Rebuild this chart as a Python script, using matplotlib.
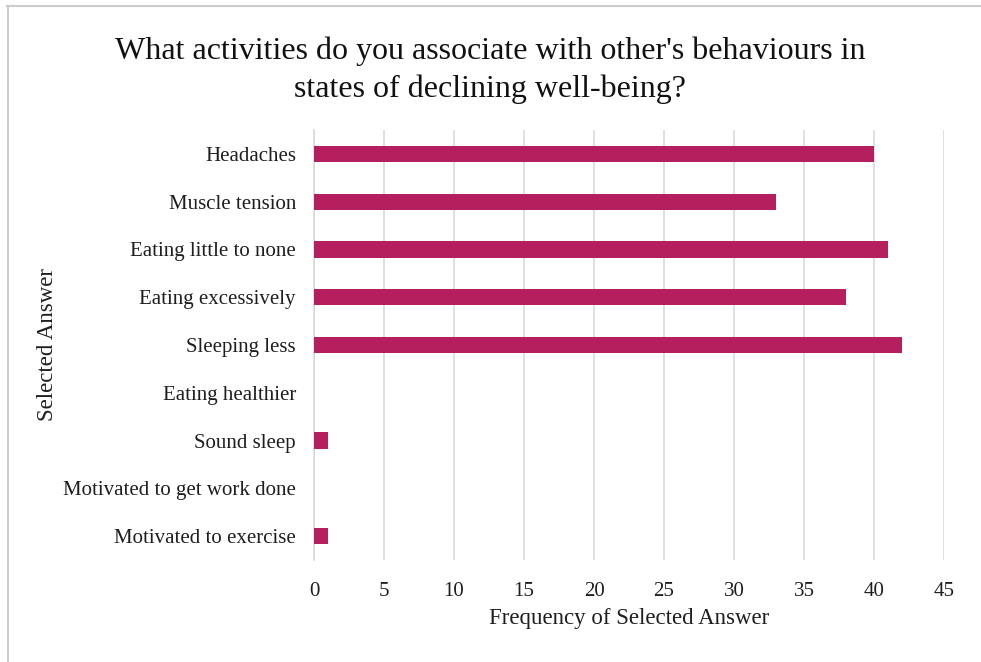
import matplotlib

matplotlib.use("Agg")
import matplotlib.pyplot as plt
from matplotlib.lines import Line2D

# Survey responses, top to bottom as they appear on the chart
answers = [
    "Headaches",
    "Muscle tension",
    "Eating little to none",
    "Eating excessively",
    "Sleeping less",
    "Eating healthier",
    "Sound sleep",
    "Motivated to get work done",
    "Motivated to exercise",
]
counts = [40, 33, 41, 38, 42, 0, 1, 0, 1]
x_ticks = [0, 5, 10, 15, 20, 25, 30, 35, 40, 45]

BAR = "#b51f5e"
GRID = "#d9d9d9"
TEXT = "#1e1e1e"

plt.rcParams["font.family"] = ["Liberation Serif", "DejaVu Serif"]

fig = plt.figure(figsize=(9.81, 6.62), dpi=100)
ax = fig.add_axes([0.3201, 0.154, 0.6422, 0.6496])

ypos = list(range(len(answers)))
ax.barh(ypos, counts, height=0.34, color=BAR, linewidth=0, zorder=3)

ax.set_xlim(0, 45)
ax.set_ylim(len(answers) - 0.5, -0.5)
ax.set_xticks(x_ticks)
ax.set_xticklabels([str(t) for t in x_ticks], fontsize=15, color=TEXT)
ax.set_yticks(ypos)
ax.set_yticklabels(answers, fontsize=15, color=TEXT)
ax.tick_params(axis="both", length=0)
ax.tick_params(axis="x", pad=16)
ax.tick_params(axis="y", pad=13)

ax.xaxis.grid(True, color=GRID, linewidth=1.2, zorder=0)
for side in ("top", "right", "bottom"):
    ax.spines[side].set_visible(False)
ax.spines["left"].set_color(GRID)
ax.spines["left"].set_linewidth(1.2)

ax.set_xlabel("Frequency of Selected Answer", fontsize=16.5, color=TEXT,
              labelpad=5)
fig.text(0.048, 0.48, "Selected Answer", rotation=90, fontsize=16.5,
         color=TEXT, ha="center", va="center")

fig.text(0.5, 0.894, "What activities do you associate with other's behaviours in\n"
         "states of declining well-being?", ha="center", va="center",
         fontsize=23, linespacing=1.35, color="#111111")

# thin frame around the chart area
fig.add_artist(Line2D([0.007, 1.0], [0.991, 0.991], transform=fig.transFigure,
                      color="#cccccc", linewidth=1.5))
fig.add_artist(Line2D([0.008, 0.008], [0.0, 0.991], transform=fig.transFigure,
                      color="#cccccc", linewidth=1.5))

fig.savefig("out.png", dpi=100)
